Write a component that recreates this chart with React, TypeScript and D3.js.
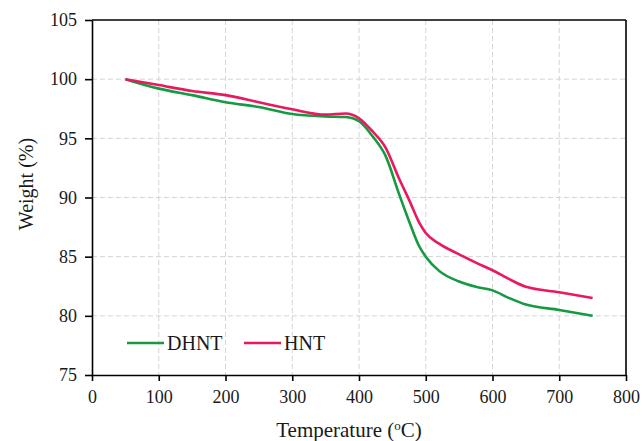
import React, { useEffect, useRef } from 'react';
import * as d3 from 'd3';

// Temperature (°C) sample points
const temps = [50, 100, 150, 200, 250, 300, 350, 380, 400, 420, 440, 460, 475, 490, 500, 520, 550, 575, 600, 625, 650, 700, 750];
const dhnt = [100, 99.2, 98.65, 98.05, 97.65, 97.05, 96.85, 96.8, 96.45, 95.2, 93.5, 90.3, 88.0, 85.9, 85.0, 83.8, 82.9, 82.45, 82.15, 81.5, 80.95, 80.5, 80.0];
const hnt = [100, 99.5, 99.0, 98.65, 98.05, 97.45, 97.0, 97.1, 96.7, 95.6, 94.2, 91.6, 89.8, 87.9, 87.0, 86.1, 85.2, 84.5, 83.85, 83.1, 82.45, 82.0, 81.5];

const xTicks = [0, 100, 200, 300, 400, 500, 600, 700, 800];
const yTicks = [75, 80, 85, 90, 95, 100, 105];

const series = [
  { name: 'DHNT', values: dhnt, color: '#159a3f' },
  { name: 'HNT', values: hnt, color: '#e8195e' },
];

const FONT = 'Liberation Serif, serif';

const App = () => {
  const svgRef = useRef<SVGSVGElement>(null);

  useEffect(() => {
    if (!svgRef.current) return;
    const width = 642;
    const height = 441;
    const margin = { top: 20, right: 16, bottom: 66, left: 92 };

    const svg = d3.select(svgRef.current);
    svg.selectAll('*').remove();
    svg.attr('width', width).attr('height', height).attr('font-family', FONT);

    const chartWidth = width - margin.left - margin.right;
    const chartHeight = height - margin.top - margin.bottom;

    const x = d3.scaleLinear().domain([0, 800]).range([0, chartWidth]);
    const y = d3.scaleLinear().domain([75, 105]).range([chartHeight, 0]);

    const g = svg.append('g').attr('transform', `translate(${margin.left},${margin.top})`);

    // Grid
    g.append('g')
      .selectAll('line')
      .data(xTicks.slice(1, -1))
      .join('line')
      .attr('x1', d => x(d)).attr('x2', d => x(d))
      .attr('y1', 0).attr('y2', chartHeight)
      .attr('stroke', '#d4d4d4').attr('stroke-dasharray', '5,3');
    g.append('g')
      .selectAll('line')
      .data(yTicks.slice(1, -1))
      .join('line')
      .attr('x1', 0).attr('x2', chartWidth)
      .attr('y1', d => y(d)).attr('y2', d => y(d))
      .attr('stroke', '#d4d4d4').attr('stroke-dasharray', '5,3');

    // Axes
    const xAxis = g.append('g')
      .attr('transform', `translate(0,${chartHeight})`)
      .call(d3.axisBottom(x).tickValues(xTicks).tickSize(6).tickPadding(9).tickSizeOuter(0));
    const yAxis = g.append('g')
      .call(d3.axisLeft(y).tickValues(yTicks).tickSize(7).tickPadding(8).tickSizeOuter(0));
    [xAxis, yAxis].forEach(a => {
      a.attr('font-family', FONT).attr('font-size', 18);
      a.selectAll('path, line').attr('stroke', '#000').attr('stroke-width', 1.6);
      a.selectAll('text').attr('fill', '#1a1a1a');
    });

    // Frame top/right
    g.append('line').attr('x1', 0).attr('x2', chartWidth).attr('y1', 0).attr('y2', 0)
      .attr('stroke', '#000').attr('stroke-width', 1.6);
    g.append('line').attr('x1', chartWidth).attr('x2', chartWidth).attr('y1', 0).attr('y2', chartHeight)
      .attr('stroke', '#000').attr('stroke-width', 1.6);

    // Curves
    const line = d3.line<number>()
      .x((d, i) => x(temps[i]))
      .y(d => y(d))
      .curve(d3.curveMonotoneX);

    series.forEach(s => {
      g.append('path')
        .datum(s.values)
        .attr('fill', 'none')
        .attr('stroke', s.color)
        .attr('stroke-width', 2.6)
        .attr('d', line);
    });

    // Legend
    const legend = g.append('g').attr('transform', `translate(35, ${y(77.7)})`);
    series.forEach((s, i) => {
      const lg = legend.append('g').attr('transform', `translate(${i * 117}, 0)`);
      lg.append('line').attr('x1', 0).attr('x2', 37).attr('y1', 0).attr('y2', 0)
        .attr('stroke', s.color).attr('stroke-width', 2.6);
      lg.append('text').attr('x', 40).attr('y', 7)
        .attr('font-size', 20).attr('fill', '#1a1a1a')
        .text(s.name);
    });

    // Axis titles
    const xt = svg.append('text')
      .attr('x', 349)
      .attr('y', 437)
      .attr('text-anchor', 'middle')
      .attr('font-size', 21).attr('fill', '#1a1a1a');
    xt.append('tspan').text('Temperature (');
    xt.append('tspan').attr('dy', -7).attr('font-size', 13).text('o');
    xt.append('tspan').attr('dy', 7).text('C)');

    svg.append('text')
      .attr('transform', 'rotate(-90)')
      .attr('x', -184)
      .attr('y', 33)
      .attr('text-anchor', 'middle')
      .attr('font-size', 20).attr('fill', '#1a1a1a')
      .text('Weight (%)');
  }, []);

  return (
    <div style={{ position: 'absolute', left: 0, top: 0 }}>
      <svg ref={svgRef} style={{ display: 'block', background: '#fff' }} />
    </div>
  );
};

export default App;
